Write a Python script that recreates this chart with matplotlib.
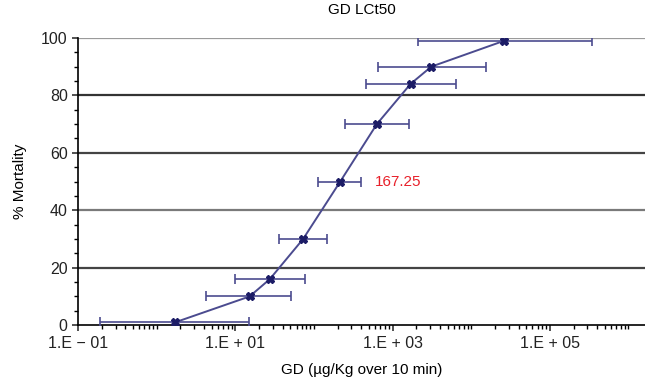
import numpy as np
import matplotlib.pyplot as plt
from matplotlib.ticker import FixedLocator, NullFormatter

plt.rcParams['font.family'] = ['Liberation Sans', 'DejaVu Sans']

# dose (ug/Kg over 10 min) and % mortality
dose = [1.72, 15.2, 27.4, 72.8, 216, 631, 1695, 3110, 26200]
mortality = [1, 10, 16, 30, 50, 70, 84, 90, 99]
dose_lo = [0.19, 4.23, 9.9, 36.3, 114, 250, 462, 650, 2100]
dose_hi = [15.1, 51.2, 77.3, 147, 398, 1600, 6350, 15200, 346000]
lc50_label = "167.25"
xtick_vals = [1e-1, 1e1, 1e3, 1e5]
xtick_labels = ["1.E \u2212 01", "1.E + 01", "1.E + 03", "1.E + 05"]

fig = plt.figure(figsize=(6.45, 3.83), dpi=100)
ax = fig.add_axes([0.121, 0.151, 0.879, 0.75])

xerr = [np.array(dose) - np.array(dose_lo), np.array(dose_hi) - np.array(dose)]
ax.errorbar(dose, mortality, xerr=xerr, fmt='none', ecolor='#4b4b8f',
            elinewidth=1.2, capsize=3.5, capthick=1.2, zorder=3)
ax.plot(dose, mortality, color='#4b4b8f', lw=1.4, marker='X', ms=5.5,
        mfc='#1c1c66', mec='#1c1c66', zorder=4)

ax.text(590, 50, lc50_label, color='#e8202a', fontsize=11, va='center')

ax.set_xscale('log')
ax.set_xlim(0.1, 10**6.21)
ax.set_ylim(0, 100)

ax.xaxis.set_major_locator(FixedLocator(xtick_vals))
ax.set_xticklabels(xtick_labels)
minor = []
for e in range(-1, 7):
    for m in range(1, 10):
        v = m * 10.0**e
        if v not in xtick_vals:
            minor.append(v)
ax.xaxis.set_minor_locator(FixedLocator(minor))
ax.xaxis.set_minor_formatter(NullFormatter())

ax.set_yticks(range(0, 101, 20))
ax.set_yticks(range(0, 101, 5), minor=True)

grid_cols = {20: '#444444', 40: '#7a7a7a', 60: '#444444', 80: '#333333', 100: '#9a9a9a'}
for yv in range(20, 101, 20):
    ax.axhline(yv, color=grid_cols[yv], lw=1.6, zorder=1)

for s in ['top', 'right']:
    ax.spines[s].set_visible(False)
ax.spines['left'].set_linewidth(1.2)
ax.spines['bottom'].set_linewidth(1.2)
ax.tick_params(axis='both', which='major', length=4, width=1.1, labelsize=11.5, colors='#222222')
ax.tick_params(axis='both', which='minor', length=3, width=1.0)

ax.set_title("GD LCt50", fontsize=11, pad=17)
ax.set_xlabel("GD (\u00b5g/Kg over 10 min)", fontsize=11, labelpad=9)
ax.set_ylabel("% Mortality", fontsize=11, labelpad=10)

fig.savefig("out.png", dpi=100)
